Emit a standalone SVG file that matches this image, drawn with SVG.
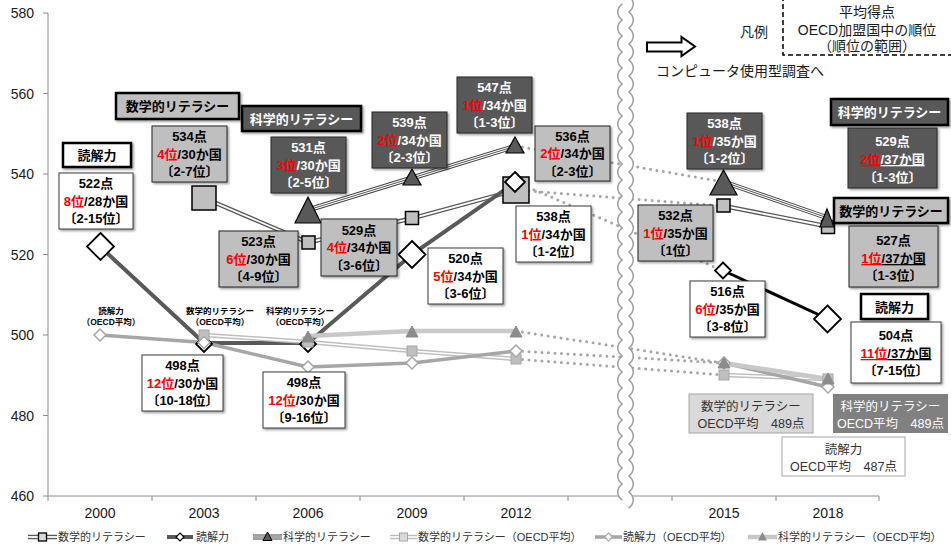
<svg xmlns="http://www.w3.org/2000/svg" width="951" height="547" viewBox="0 0 951 547">
<style>
.ax{stroke:#8c8c8c;stroke-width:1;fill:none}
.al{font-family:"Liberation Sans","Noto Sans CJK JP",sans-serif;font-size:14px;fill:#1a1a1a}
.xl{font-family:"Liberation Sans","Noto Sans CJK JP",sans-serif;font-size:14px;fill:#1a1a1a;text-anchor:middle}
.n{font-family:"Liberation Sans","Noto Sans CJK JP",sans-serif;font-size:13px;font-weight:bold;text-anchor:middle;fill:#000}
.lt{font-family:"Liberation Sans","Noto Sans CJK JP",sans-serif;font-size:13px;font-weight:bold;text-anchor:middle;fill:#000}
.sm{font-family:"Liberation Sans","Noto Sans CJK JP",sans-serif;font-size:8.5px;font-weight:bold;text-anchor:middle;fill:#000}
.ot{font-family:"Liberation Sans","Noto Sans CJK JP",sans-serif;font-size:12.5px;text-anchor:middle;fill:#333}
.lg{font-family:"Liberation Sans","Noto Sans CJK JP",sans-serif;font-size:11px;fill:#333}
.tp{font-family:"Liberation Sans","Noto Sans CJK JP",sans-serif;font-size:14px;fill:#1a1a1a}
.w{fill:#fff}
.r{fill:#f00}
.u{text-decoration:underline}
.bw{fill:#fff;stroke:#3a3a3a;stroke-width:1}
.bg{fill:#bfbfbf;stroke:#262626;stroke-width:1}
.bd{fill:#595959;stroke:#262626;stroke-width:1}
.lw{fill:#fff;stroke:#000;stroke-width:2.5}
.lgr{fill:#bfbfbf;stroke:#000;stroke-width:2.5}
.ld{fill:#595959;stroke:#000;stroke-width:2.5}
.dot{fill:none;stroke:#a6a6a6;stroke-width:3;stroke-linecap:round;stroke-dasharray:0 6.5}
.mo{fill:none;stroke:#595959;stroke-width:4.5;stroke-linejoin:round}
.mi{fill:none;stroke:#fff;stroke-width:1.8;stroke-linejoin:round}
.so{fill:none;stroke:#404040;stroke-width:5;stroke-linejoin:round}
.si{fill:none;stroke:#fff;stroke-width:3;stroke-linejoin:round}
.sc{fill:none;stroke:#404040;stroke-width:0.9;stroke-linejoin:round}
.rl{fill:none;stroke:#595959;stroke-width:4;stroke-linejoin:round}
.rb{fill:none;stroke:#000;stroke-width:3}
.omo{fill:none;stroke:#bfbfbf;stroke-width:4.5;stroke-linejoin:round}
.omi{fill:none;stroke:#fff;stroke-width:1.6;stroke-linejoin:round}
.orl{fill:none;stroke:#a6a6a6;stroke-width:3.5;stroke-linejoin:round}
.osl{fill:none;stroke:#c8c8c8;stroke-width:4.5;stroke-linejoin:round}
.mk-m{fill:#bfbfbf;stroke:#000;stroke-width:1.5}
.mk-r{fill:#fff;stroke:#000;stroke-width:1.8}
.mk-s{fill:#595959;stroke:#000;stroke-width:1.2}
.ok-m{fill:#bfbfbf;stroke:#a6a6a6;stroke-width:1}
.ok-r{fill:#fff;stroke:#a6a6a6;stroke-width:1.5}
.ok-s{fill:#8c8c8c;stroke:#8c8c8c;stroke-width:1}
</style>
<defs>
<filter id="sh" x="-10%" y="-10%" width="130%" height="130%">
<feDropShadow dx="1.5" dy="1.5" stdDeviation="1" flood-color="#000" flood-opacity="0.4"/>
</filter>
<rect id="sqS" class="mk-m" x="-6.5" y="-6.5" width="13" height="13"/>
<rect id="sqL" class="mk-m" x="-12" y="-12" width="24" height="24"/>
<rect id="sqX" class="mk-m" x="-13" y="-13" width="26" height="26"/>
<polygon id="diS" class="mk-r" points="0,-8 8,0 0,8 -8,0"/>
<polygon id="diM" class="mk-r" points="0,-10 10,0 0,10 -10,0"/>
<polygon id="diL" class="mk-r" points="0,-13.5 13.5,0 0,13.5 -13.5,0"/>
<polygon id="trS" class="mk-s" points="0,-9 9,7 -9,7"/>
<polygon id="trL" class="mk-s" points="0,-13 13,13 -13,13"/>
<polygon id="trX" class="mk-s" points="0,-12 13.5,13 -13.5,13"/>
<rect id="osq" class="ok-m" x="-5" y="-5" width="10" height="10"/>
<polygon id="odi" class="ok-r" points="0,-6 6,0 0,6 -6,0"/>
<polygon id="otr" class="ok-s" points="0,-6 6,5 -6,5"/>
</defs>

<rect x="0" y="0" width="951" height="547" fill="#fff"/>

<g id="axes">
<line class="ax" x1="48" y1="13" x2="48" y2="496"/>
<line class="ax" x1="48" y1="496" x2="879" y2="496"/>
<path class="ax" d="M43,13H48M43,93.5H48M43,174H48M43,254.5H48M43,335H48M43,415.5H48M43,496H48"/>
<path class="ax" d="M48,496V501M152,496V501M256,496V501M360,496V501M464,496V501M568,496V501M672,496V501M776,496V501M879,496V501"/>
<g class="al" text-anchor="end">
<text x="34" y="18">580</text>
<text x="34" y="98.5">560</text>
<text x="34" y="179">540</text>
<text x="34" y="259.5">520</text>
<text x="34" y="340">500</text>
<text x="34" y="420.5">480</text>
<text x="34" y="501">460</text>
</g>
<text class="xl" x="100" y="518">2000</text>
<text class="xl" x="204" y="518">2003</text>
<text class="xl" x="308" y="518">2006</text>
<text class="xl" x="412" y="518">2009</text>
<text class="xl" x="516" y="518">2012</text>
<text class="xl" x="724" y="518">2015</text>
<text class="xl" x="828" y="518">2018</text>
</g>

<g id="connectors">
<!-- dotted bridges 2012-2015 -->
<path class="dot" d="M516,146L724,182"/>
<path class="dot" d="M516,190L724,206"/>
<path class="dot" d="M516,182L724,271"/>
<path class="dot" d="M516,331L724,363"/>
<path class="dot" d="M516,351L724,363"/>
<path class="dot" d="M516,359L724,375"/>
<!-- math -->
<path class="mo" d="M204,198L308,242.5L412,218.3L516,190.1"/>
<path class="mi" d="M204,198L308,242.5L412,218.3L516,190.1"/>
<path class="mo" d="M724,206L828,226.5"/>
<path class="mi" d="M724,206L828,226.5"/>
<!-- reading -->
<path class="rl" d="M100,246.5L204,343L308,343L412,254.5L516,182"/>
<path class="rb" d="M723,270.5L828,319"/>
<!-- science -->
<path class="so" d="M308,210L412,178L516,146"/>
<path class="si" d="M308,210L412,178L516,146"/>
<path class="sc" d="M308,210L412,178L516,146"/>
<path class="so" d="M724,182L828,218"/>
<path class="si" d="M724,182L828,218"/>
<path class="sc" d="M724,182L828,218"/>
<!-- OECD -->
<path class="omo" d="M204,335L308,342L412,351L516,359"/>
<path class="omi" d="M204,335L308,342L412,351L516,359"/>
<path class="omo" d="M724,375L828,379"/>
<path class="omi" d="M724,375L828,379"/>
<path class="orl" d="M100,335L204,342.5L308,367L412,363L516,351"/>
<path class="orl" d="M724,363L828,387"/>
<path class="osl" d="M308,336L412,331L516,331"/>
<path class="osl" d="M724,363L828,379"/>
</g>

<g id="markers">
<use href="#sqL" x="204" y="198"/>
<use href="#sqS" x="308.5" y="242.5"/>
<use href="#sqS" x="412" y="218"/>
<use href="#sqX" x="516" y="190"/>
<use href="#sqS" x="723.5" y="205.5"/>
<use href="#sqS" x="828" y="227"/>
<use href="#diL" x="100.5" y="246.5"/>
<use href="#diS" x="204" y="344"/>
<use href="#diS" x="308" y="344"/>
<use href="#diL" x="412" y="254.5"/>
<use href="#diM" x="515" y="182"/>
<use href="#diS" x="723" y="270.5"/>
<use href="#diL" x="827.5" y="319"/>
<use href="#trL" x="308" y="210"/>
<use href="#trS" x="412" y="178"/>
<use href="#trS" x="515" y="146"/>
<use href="#trX" x="723.5" y="182"/>
<polygon class="mk-s" points="827,209 834,227 820,227"/>
<use href="#osq" x="204" y="335"/>
<use href="#osq" x="308" y="342"/>
<use href="#osq" x="412" y="351"/>
<use href="#osq" x="516" y="359"/>
<use href="#osq" x="724" y="375"/>
<use href="#osq" x="828" y="379"/>
<use href="#odi" x="100" y="335"/>
<use href="#odi" x="204" y="342.5"/>
<use href="#odi" x="308" y="367"/>
<use href="#odi" x="412" y="363"/>
<use href="#odi" x="516" y="351"/>
<use href="#odi" x="724" y="363"/>
<use href="#odi" x="828" y="387"/>
<use href="#otr" x="308" y="337"/>
<use href="#otr" x="412" y="332"/>
<use href="#otr" x="516" y="332"/>
<use href="#otr" x="724" y="363"/>
<use href="#otr" x="828" y="379"/>
</g>

<g id="break">
<path d="M625.5,0q5,4 0,8t0,8t0,8t0,8t0,8t0,8t0,8t0,8t0,8t0,8t0,8t0,8t0,8t0,8t0,8t0,8t0,8t0,8t0,8t0,8t0,8t0,8t0,8t0,8t0,8t0,8t0,8t0,8t0,8t0,8t0,8t0,8t0,8t0,8t0,8t0,8t0,8t0,8t0,8t0,8t0,8t0,8t0,8t0,8t0,8t0,8t0,8t0,8t0,8t0,8t0,8t0,8t0,8t0,8t0,8t0,8t0,8t0,8t0,8t0,8t0,8t0,8t0,8" fill="none" stroke="#a0a0a0" stroke-width="12"/>
<path d="M625.5,0q5,4 0,8t0,8t0,8t0,8t0,8t0,8t0,8t0,8t0,8t0,8t0,8t0,8t0,8t0,8t0,8t0,8t0,8t0,8t0,8t0,8t0,8t0,8t0,8t0,8t0,8t0,8t0,8t0,8t0,8t0,8t0,8t0,8t0,8t0,8t0,8t0,8t0,8t0,8t0,8t0,8t0,8t0,8t0,8t0,8t0,8t0,8t0,8t0,8t0,8t0,8t0,8t0,8t0,8t0,8t0,8t0,8t0,8t0,8t0,8t0,8t0,8t0,8t0,8" fill="none" stroke="#fff" stroke-width="9"/>
</g>

<g id="oecd-labels">
<text class="sm" x="111" y="314">読解力</text>
<text class="sm" x="111" y="325">（OECD平均）</text>
<text class="sm" x="220" y="314">数学的リテラシー</text>
<text class="sm" x="220" y="325">（OECD平均）</text>
<text class="sm" x="300" y="314">科学的リテラシー</text>
<text class="sm" x="300" y="325">（OECD平均）</text>
</g>

<g id="label-reading-left"><rect class="lw" x="63" y="143" width="68" height="24" filter="url(#sh)"/><text class="lt" x="97" y="160" font-size="14">読解力</text></g>
<g id="box-2000-reading"><rect class="bw" x="59" y="173" width="74" height="56" filter="url(#sh)"/>
<text class="n"><tspan x="96" y="188">522点</tspan><tspan x="96" y="205.5"><tspan class="r">8位</tspan>/28か国</tspan><tspan x="96" y="223">〔2-15位〕</tspan></text></g>
<g id="label-math-left"><rect class="lgr" x="116" y="93" width="123" height="26" filter="url(#sh)"/><text class="lt" x="177.5" y="111">数学的リテラシー</text></g>
<g id="box-2003-math"><rect class="bg" x="152" y="126" width="75" height="56" filter="url(#sh)"/>
<text class="n"><tspan x="189.5" y="141">534点</tspan><tspan x="189.5" y="158.5"><tspan class="r">4位</tspan>/30か国</tspan><tspan x="189.5" y="176">〔2-7位〕</tspan></text></g>
<g id="label-science-left"><rect class="ld" x="242" y="106" width="119" height="25" filter="url(#sh)"/><text class="lt w" x="301.5" y="123.5">科学的リテラシー</text></g>
<g id="box-2006-science"><rect class="bd" x="271" y="137" width="75" height="56" filter="url(#sh)"/>
<text class="n w"><tspan x="308.5" y="152">531点</tspan><tspan x="308.5" y="169.5"><tspan class="r">3位</tspan>/30か国</tspan><tspan x="308.5" y="187">〔2-5位〕</tspan></text></g>
<g id="box-2006-math"><rect class="bg" x="219" y="231" width="79" height="56" filter="url(#sh)"/>
<text class="n"><tspan x="258.5" y="246">523点</tspan><tspan x="258.5" y="263.5"><tspan class="r">6位</tspan>/30か国</tspan><tspan x="258.5" y="281">〔4-9位〕</tspan></text></g>
<g id="box-2009-math"><rect class="bg" x="321" y="219" width="76" height="57" filter="url(#sh)"/>
<text class="n"><tspan x="359" y="234.5">529点</tspan><tspan x="359" y="252"><tspan class="r">4位</tspan>/34か国</tspan><tspan x="359" y="269.5">〔3-6位〕</tspan></text></g>
<g id="box-2009-science"><rect class="bd" x="372" y="112" width="75" height="56" filter="url(#sh)"/>
<text class="n w"><tspan x="409.5" y="127">539点</tspan><tspan x="409.5" y="144.5"><tspan class="r">2位</tspan>/34か国</tspan><tspan x="409.5" y="162">〔2-3位〕</tspan></text></g>
<g id="box-2012-science"><rect class="bd" x="457" y="77" width="75" height="56" filter="url(#sh)"/>
<text class="n w"><tspan x="494.5" y="92">547点</tspan><tspan x="494.5" y="109.5"><tspan class="r">1位</tspan>/34か国</tspan><tspan x="494.5" y="127">〔1-3位〕</tspan></text></g>
<g id="box-2012-math"><rect class="bg" x="535" y="126" width="75" height="55" filter="url(#sh)"/>
<text class="n"><tspan x="572.5" y="140.5">536点</tspan><tspan x="572.5" y="158"><tspan class="r">2位</tspan>/34か国</tspan><tspan x="572.5" y="175.5">〔2-3位〕</tspan></text></g>
<g id="box-2012-reading"><rect class="bw" x="516" y="206" width="75" height="56" filter="url(#sh)"/>
<text class="n"><tspan x="553.5" y="221">538点</tspan><tspan x="553.5" y="238.5"><tspan class="r">1位</tspan>/34か国</tspan><tspan x="553.5" y="256">〔1-2位〕</tspan></text></g>
<g id="box-2009-reading"><rect class="bw" x="428" y="248" width="75" height="56" filter="url(#sh)"/>
<text class="n"><tspan x="465.5" y="263">520点</tspan><tspan x="465.5" y="280.5"><tspan class="r">5位</tspan>/34か国</tspan><tspan x="465.5" y="298">〔3-6位〕</tspan></text></g>
<g id="box-2003-reading"><rect class="bw" x="142" y="355" width="81" height="56" filter="url(#sh)"/>
<text class="n"><tspan x="182.5" y="370">498点</tspan><tspan x="182.5" y="387.5"><tspan class="r">12位</tspan>/30か国</tspan><tspan x="182.5" y="405">〔10-18位〕</tspan></text></g>
<g id="box-2006-reading"><rect class="bw" x="263" y="372" width="82" height="56" filter="url(#sh)"/>
<text class="n"><tspan x="304" y="387">498点</tspan><tspan x="304" y="404.5"><tspan class="r">12位</tspan>/30か国</tspan><tspan x="304" y="422">〔9-16位〕</tspan></text></g>

<g id="box-2015-science"><rect class="bd" x="687" y="113" width="75" height="56" filter="url(#sh)"/>
<text class="n w"><tspan x="724.5" y="128">538点</tspan><tspan x="724.5" y="145.5"><tspan class="r">1位</tspan>/35か国</tspan><tspan x="724.5" y="163">〔1-2位〕</tspan></text></g>
<g id="box-2015-math"><rect class="bg" x="638" y="205" width="75" height="56" filter="url(#sh)"/>
<text class="n"><tspan x="675.5" y="220">532点</tspan><tspan x="675.5" y="237.5"><tspan class="r">1位</tspan>/35か国</tspan><tspan x="675.5" y="255">〔1位〕</tspan></text></g>
<g id="box-2015-reading"><rect class="bw" x="690" y="281" width="75" height="56" filter="url(#sh)"/>
<text class="n"><tspan x="727.5" y="296">516点</tspan><tspan x="727.5" y="313.5"><tspan class="r">6位</tspan>/35か国</tspan><tspan x="727.5" y="331">〔3-8位〕</tspan></text></g>
<g id="label-science-right"><rect class="ld" x="831" y="99" width="117" height="26" filter="url(#sh)"/><text class="lt w" x="889.5" y="117">科学的リテラシー</text></g>
<g id="box-2018-science"><rect class="bd" x="848" y="128" width="89" height="60" filter="url(#sh)"/>
<text class="n w"><tspan x="892.5" y="146">529点</tspan><tspan x="892.5" y="164"><tspan class="r u">2位</tspan><tspan class="u">/37か国</tspan></tspan><tspan x="892.5" y="182">〔1-3位〕</tspan></text></g>
<g id="label-math-right"><rect class="lgr" x="834" y="198" width="114" height="25" filter="url(#sh)"/><text class="lt" x="891" y="215.5">数学的リテラシー</text></g>
<g id="box-2018-math"><rect class="bg" x="849" y="226" width="89" height="61" filter="url(#sh)"/>
<text class="n"><tspan x="893.5" y="245">527点</tspan><tspan x="893.5" y="263"><tspan class="r u">1位</tspan><tspan class="u">/37か国</tspan></tspan><tspan x="893.5" y="280">〔1-3位〕</tspan></text></g>
<g id="label-reading-right"><rect class="lw" x="861" y="294" width="67" height="25" filter="url(#sh)"/><text class="lt" x="894.5" y="311.5" font-size="14">読解力</text></g>
<g id="box-2018-reading"><rect class="bw" x="851" y="322" width="90" height="61" filter="url(#sh)"/>
<text class="n"><tspan x="896" y="340">504点</tspan><tspan x="896" y="358"><tspan class="r u">11位</tspan><tspan class="u">/37か国</tspan></tspan><tspan x="896" y="375">〔7-15位〕</tspan></text></g>

<g id="oecd-math-box"><rect x="689" y="394" width="124" height="39" fill="#d9d9d9" stroke="#a6a6a6"/>
<text class="ot" x="751" y="411">数学的リテラシー</text><text class="ot" x="751" y="428">OECD平均　489点</text></g>
<g id="oecd-science-box"><rect x="833" y="394" width="115" height="39" fill="#808080"/>
<text class="ot w" x="890.5" y="411">科学的リテラシー</text><text class="ot w" x="890.5" y="428">OECD平均　489点</text></g>
<g id="oecd-reading-box"><rect x="782" y="437" width="123" height="39" fill="#fff" stroke="#a6a6a6"/>
<text class="ot" x="843.5" y="453.5">読解力</text><text class="ot" x="843.5" y="470.5">OECD平均　487点</text></g>

<g id="key-top">
<text class="tp" x="754" y="37" text-anchor="middle">凡例</text>
<rect x="783" y="-3" width="180" height="58" fill="none" stroke="#000" stroke-width="1.5" stroke-dasharray="5 3"/>
<text class="tp" x="867" y="17" text-anchor="middle">平均得点</text>
<text class="tp" x="867" y="35" text-anchor="middle">OECD加盟国中の順位</text>
<text class="tp" x="867" y="51" text-anchor="middle">（順位の範囲）</text>
</g>
<g id="arrow-cbt">
<path d="M647,42.5H681.5V37L695,46.5L681.5,56V51.5H647Z" fill="#fff" stroke="#000" stroke-width="2"/>
<text class="tp" x="656" y="76" font-size="13">コンピュータ使用型調査へ</text>
</g>

<g id="legend">
<line x1="28" y1="537" x2="57" y2="537" stroke="#595959" stroke-width="4.5"/>
<line x1="28" y1="537" x2="57" y2="537" stroke="#fff" stroke-width="1.8"/>
<rect x="38.5" y="533" width="8" height="8" fill="#d9d9d9" stroke="#000" stroke-width="1.3"/>
<text class="lg" x="58" y="541">数学的リテラシー</text>
<line x1="167" y1="537" x2="193" y2="537" stroke="#595959" stroke-width="4"/>
<polygon points="180,533 184,537 180,541 176,537" fill="#fff" stroke="#000" stroke-width="1.2"/>
<text class="lg" x="196" y="541">読解力</text>
<line x1="253" y1="537" x2="282" y2="537" stroke="#404040" stroke-width="5"/>
<line x1="253" y1="537" x2="282" y2="537" stroke="#fff" stroke-width="3"/>
<line x1="253" y1="537" x2="282" y2="537" stroke="#404040" stroke-width="0.9"/>
<polygon points="267.5,532 272,540.5 263,540.5" fill="#595959" stroke="#000" stroke-width="1"/>
<text class="lg" x="283" y="541">科学的リテラシー</text>
<line x1="390" y1="537" x2="417" y2="537" stroke="#bfbfbf" stroke-width="4.5"/>
<line x1="390" y1="537" x2="417" y2="537" stroke="#fff" stroke-width="1.6"/>
<rect x="399.5" y="533" width="8" height="8" fill="#d9d9d9" stroke="#a6a6a6"/>
<text class="lg" x="418" y="541">数学的リテラシー（OECD平均）</text>
<line x1="595" y1="537" x2="622" y2="537" stroke="#a6a6a6" stroke-width="3.5"/>
<polygon points="608.5,533 612.5,537 608.5,541 604.5,537" fill="#fff" stroke="#a6a6a6" stroke-width="1.2"/>
<text class="lg" x="623" y="541">読解力（OECD平均）</text>
<line x1="748" y1="537" x2="777" y2="537" stroke="#c8c8c8" stroke-width="4.5"/>
<polygon points="762.5,532 767,540.5 758,540.5" fill="#8c8c8c"/>
<text class="lg" x="778" y="541">科学的リテラシー（OECD平均）</text>
</g>
</svg>
